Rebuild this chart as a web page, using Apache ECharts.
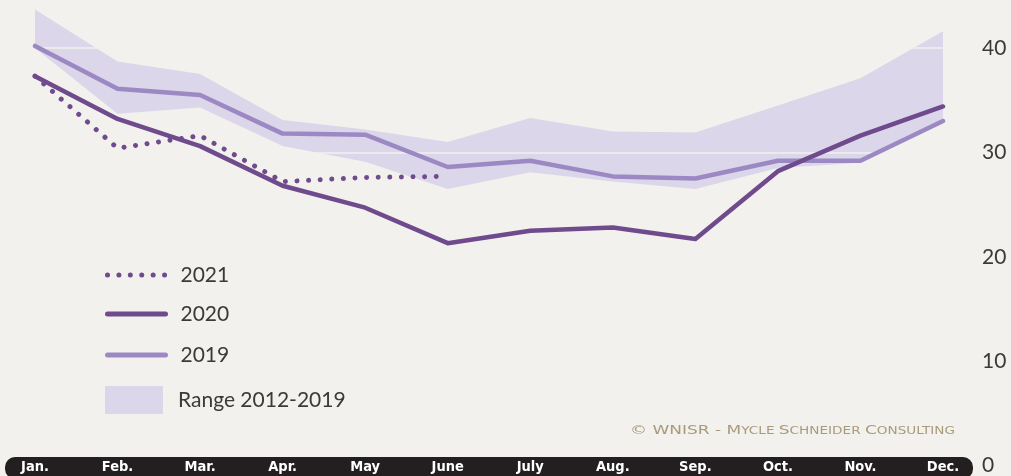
<!DOCTYPE html>
<html>
<head>
<meta charset="utf-8">
<script src="https://cdn.jsdelivr.net/npm/echarts@6/dist/echarts.min.js"></script>
<style>
  html, body { margin: 0; padding: 0; background: #f2f1ed; }
  #chart { width: 1011px; height: 476px; }
</style>
</head>
<body>
<div id="chart"></div>
<script>
const months = ['Jan.', 'Feb.', 'Mar.', 'Apr.', 'May', 'June', 'July', 'Aug.', 'Sep.', 'Oct.', 'Nov.', 'Dec.'];
const v2019 = [40.2, 36.1, 35.5, 31.8, 31.7, 28.6, 29.2, 27.7, 27.5, 29.2, 29.2, 33.0];
const v2020 = [37.3, 33.2, 30.6, 26.8, 24.7, 21.3, 22.5, 22.8, 21.7, 28.2, 31.6, 34.4];
const v2021 = [37.3, 30.4, 31.6, 27.2, 27.6, 27.7];
const rangeHigh = [43.7, 38.7, 37.5, 33.1, 32.2, 31.0, 33.3, 32.0, 31.9, 34.5, 37.1, 41.6];
const rangeLow = [40.0, 33.7, 34.3, 30.6, 29.1, 26.5, 28.1, 27.2, 26.5, 28.5, 29.0, 33.0];
const yTicks = [0, 10, 20, 30, 40];

const rangeSpan = rangeHigh.map((h, i) => +(h - rangeLow[i]).toFixed(2));

const BG = '#f2f1ed';
const DARK = '#6f4a8c';
const LIGHT = '#9c89c4';
const BAND = '#dbd6e9';
const TXT = '#3a3a3a';
const FONT = 'Lato, "Noto Sans", sans-serif';

const chart = echarts.init(document.getElementById('chart'), null, { renderer: 'canvas' });

function legendFor(name, top, opts) {
  return Object.assign({
    data: [name],
    left: 105,
    top: top,
    padding: 0,
    itemWidth: 58,
    itemHeight: 5,
    selectedMode: false,
    textStyle: { fontFamily: FONT, fontSize: 21, color: TXT, lineHeight: 24, padding: [0, 0, 0, 10] },
    itemStyle: { opacity: 0 }
  }, opts);
}

const option = {
  backgroundColor: BG,
  animation: false,
  grid: { left: 35, right: 68, top: 48, bottom: 10, containLabel: false },
  legend: [
    legendFor('2021', 263, { lineStyle: { width: 5, type: [0.01, 11.4], cap: 'round', color: DARK } }),
    legendFor('2020', 302, { lineStyle: { width: 5, type: 'solid', cap: 'round', color: DARK } }),
    legendFor('2019', 343, { lineStyle: { width: 5, type: 'solid', cap: 'round', color: LIGHT } }),
    legendFor('Range 2012-2019', 386, {
      data: [{ name: 'Range 2012-2019', icon: 'rect' }],
      itemHeight: 28,
      itemStyle: { color: BAND, borderWidth: 0, opacity: 1 }
    })
  ],
  xAxis: {
    type: 'category',
    data: months,
    boundaryGap: false,
    z: 10,
    axisLine: { show: false },
    axisTick: { show: false },
    splitLine: { show: false },
    axisLabel: {
      margin: 2,
      verticalAlign: 'middle',
      color: '#ffffff',
      fontFamily: '"DejaVu Sans Condensed", "Liberation Sans Narrow", sans-serif',
      fontWeight: 'bold',
      fontSize: 14.5,
      interval: 0
    }
  },
  yAxis: {
    type: 'value',
    position: 'right',
    min: yTicks[0],
    max: yTicks[yTicks.length - 1],
    interval: yTicks[1] - yTicks[0],
    z: 2,
    axisLine: { show: false },
    axisTick: { show: false },
    axisLabel: {
      margin: 39,
      align: 'left',
      verticalAlign: 'middle',
      padding: [0, 0, 6, 0],
      color: TXT,
      fontFamily: FONT,
      fontWeight: 'normal',
      fontSize: 21
    },
    splitLine: { show: true, lineStyle: { color: BG, width: 1.5, opacity: 1 } }
  },
  graphic: [
    {
      type: 'rect',
      z: 5,
      shape: { x: 5, y: 457, width: 968, height: 22, r: 10 },
      style: { fill: '#231f20' },
      silent: true
    },
    {
      type: 'text',
      z: 5,
      x: 955,
      y: 431,
      scaleX: 1.36,
      silent: true,
      style: {
        text: '{a|© WNISR - M}{b|YCLE }{a|S}{b|CHNEIDER }{a|C}{b|ONSULTING}',
        align: 'right',
        verticalAlign: 'middle',
        rich: {
          a: { fontFamily: '"DejaVu Sans", sans-serif', fontSize: 12.5, fill: '#a99b7a', fontWeight: 'normal' },
          b: { fontFamily: '"DejaVu Sans", sans-serif', fontSize: 10, fill: '#a99b7a', fontWeight: 'normal' }
        }
      }
    }
  ],
  series: [
    {
      name: 'rangeLow',
      type: 'line',
      data: rangeLow,
      stack: 'band',
      symbol: 'none',
      silent: true,
      clip: false,
      z: 1,
      lineStyle: { opacity: 0 }
    },
    {
      name: 'Range 2012-2019',
      type: 'line',
      data: rangeSpan,
      stack: 'band',
      symbol: 'none',
      silent: true,
      clip: false,
      z: 1,
      itemStyle: { color: BAND },
      lineStyle: { opacity: 0 },
      areaStyle: { color: BAND, opacity: 1 }
    },
    {
      name: '2019',
      type: 'line',
      data: v2019,
      symbol: 'none',
      clip: false,
      z: 3,
      itemStyle: { color: LIGHT },
      lineStyle: { color: LIGHT, width: 4.5, join: 'round', cap: 'round' }
    },
    {
      name: '2020',
      type: 'line',
      data: v2020,
      symbol: 'none',
      clip: false,
      z: 4,
      itemStyle: { color: DARK },
      lineStyle: { color: DARK, width: 4.5, join: 'round', cap: 'round' }
    },
    {
      name: '2021',
      type: 'line',
      data: v2021,
      symbol: 'none',
      clip: false,
      z: 4,
      itemStyle: { color: DARK },
      lineStyle: { color: DARK, width: 5, type: [0.01, 11.6], cap: 'round' }
    }
  ]
};

chart.setOption(option);
</script>
</body>
</html>
